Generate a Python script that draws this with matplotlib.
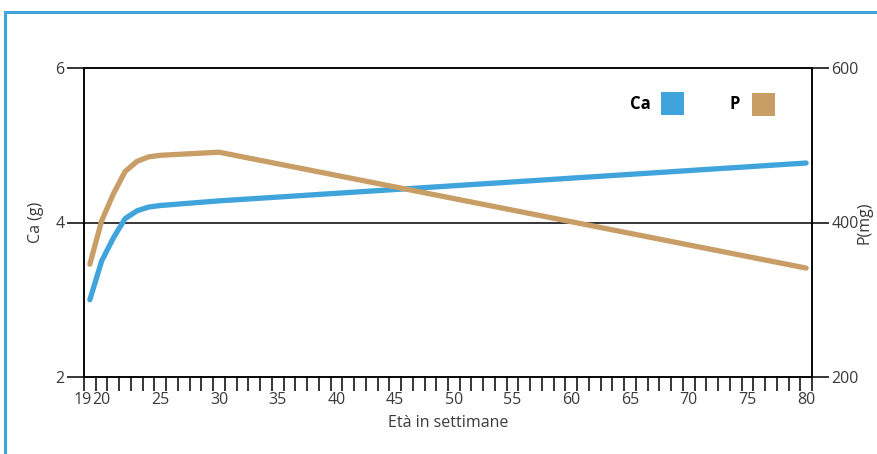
import matplotlib
matplotlib.use("Agg")
import matplotlib.pyplot as plt
import matplotlib.transforms as mtransforms
from matplotlib.lines import Line2D
from matplotlib.patches import Rectangle
import numpy as np

# dati
weeks = [19, 20, 21, 22, 23, 24, 25, 30, 80]
ca_g = [3.0, 3.5, 3.8, 4.05, 4.15, 4.2, 4.22, 4.28, 4.77]
p_weeks = [19, 20, 21, 22, 23, 24, 25, 30, 80]
p_mg = [346, 402, 437, 466, 479, 485, 487, 491, 341]
xtick_labels = [19, 20, 25, 30, 35, 40, 45, 50, 55, 60, 65, 70, 75, 80]

BLUE = "#3fa3dc"
TAN = "#c99d66"
TXT = "#3a3a3a"
FS = 11.5

plt.rcParams['font.family'] = ['Open Sans', 'DejaVu Sans']

W, H = 878, 454
fig = plt.figure(figsize=(W / 100, H / 100), dpi=100)
ax = fig.add_axes([84 / W, 1 - 377 / H, (812 - 84) / W, (377 - 68) / H])
ax2 = ax.twinx()

ax.plot(weeks, ca_g, color=BLUE, lw=3.8, solid_capstyle='round', solid_joinstyle='round', zorder=3)
ax2.plot(p_weeks, p_mg, color=TAN, lw=3.8, solid_capstyle='round', solid_joinstyle='round', zorder=3)

ax.set_xlim(18.5, 80.5)
ax.set_ylim(2, 6)
ax2.set_ylim(200, 600)

ax.set_yticks([2, 4, 6])
ax2.set_yticks([200, 400, 600])
ax.axhline(4, color='black', lw=1.1, zorder=1)

ax.set_xticks(xtick_labels)
ax.set_xticklabels([str(v) for v in xtick_labels])
ax.set_xticks(np.arange(18.5, 80.6, 1.0), minor=True)
ax.tick_params(axis='x', which='major', length=0, pad=11, labelsize=FS, labelcolor=TXT)
ax.tick_params(axis='x', which='minor', length=10, width=1.1, direction='out', color='black')
ax.tick_params(axis='y', length=12, width=1.1, pad=2, labelsize=FS, labelcolor=TXT)
ax2.tick_params(axis='y', length=12, width=1.1, pad=2, labelsize=FS, labelcolor=TXT)

# "19" spostato a sinistra come nell'originale
lab19 = ax.get_xticklabels()[0]
lab19.set_transform(lab19.get_transform() + mtransforms.ScaledTranslation(-7 / 100, 0, fig.dpi_scale_trans))

for a in (ax, ax2):
    for s in a.spines.values():
        s.set_linewidth(1.1)
        s.set_color('black')

ax.set_xlabel("Età in settimane", fontsize=FS, color=TXT, labelpad=5)
ax.set_ylabel("Ca (g)", fontsize=FS, color=TXT, labelpad=8)
ax2.set_ylabel("P(mg)", fontsize=FS, color=TXT, rotation=90, va='center', ha='center')
ax2.yaxis.set_label_coords((865 - 84) / (812 - 84), 0.5)

# legenda
fig.text(630 / W, 1 - 104 / H, "Ca", fontsize=12, fontweight='bold', va='center', ha='left', color='black')
fig.patches.append(Rectangle((661 / W, 1 - 115 / H), 23 / W, 23 / H, transform=fig.transFigure,
                             facecolor=BLUE, edgecolor='none'))
fig.text(730 / W, 1 - 104 / H, "P", fontsize=12, fontweight='bold', va='center', ha='left', color='black')
fig.patches.append(Rectangle((752 / W, 1 - 116 / H), 23 / W, 23 / H, transform=fig.transFigure,
                             facecolor=TAN, edgecolor='none'))

# cornice blu
fig.add_artist(Line2D([5 / W, 5 / W], [0, 1 - 12 / H], color=BLUE, lw=2.2, transform=fig.transFigure))
fig.add_artist(Line2D([5 / W, 1], [1 - 12 / H, 1 - 12 / H], color=BLUE, lw=2.2, transform=fig.transFigure))

fig.savefig("out.png", dpi=100)
